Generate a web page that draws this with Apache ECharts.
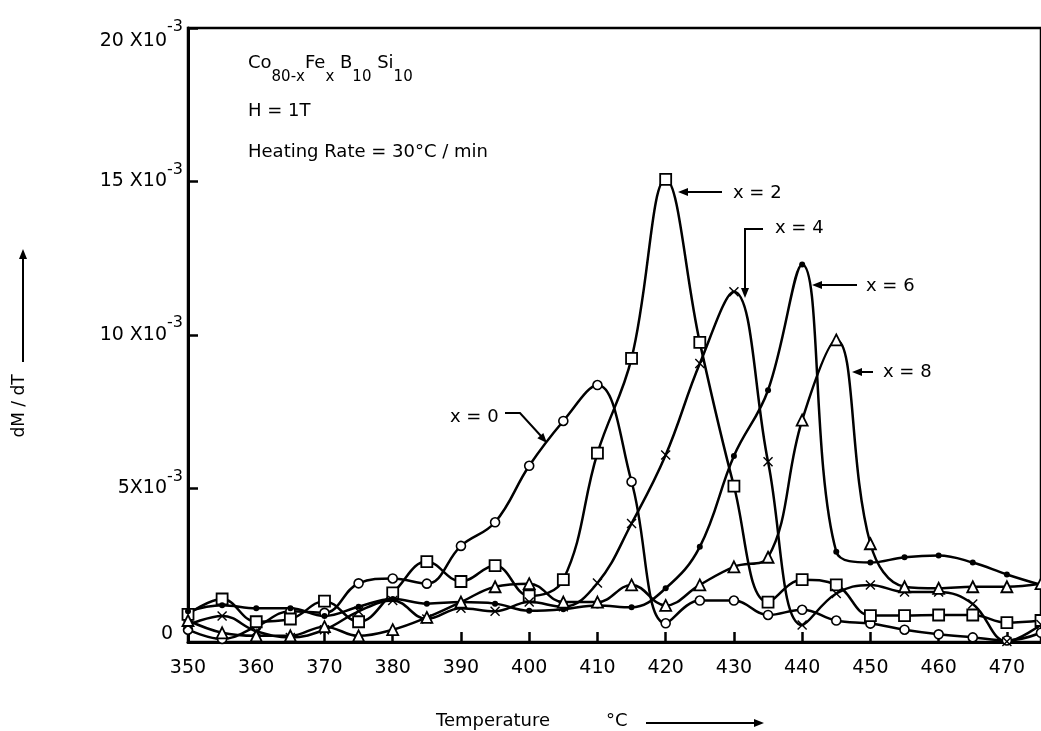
<!DOCTYPE html>
<html>
<head>
<meta charset="utf-8">
<script src="https://cdn.jsdelivr.net/npm/echarts@6/dist/echarts.min.js"></script>
<style>
  html, body { margin: 0; padding: 0; background: #fff; }
  #chart { width: 1041px; height: 731px; }
</style>
</head>
<body>
<div id="chart"></div>
<script>
// temperature (°C), one reading every 5 degrees
const temps = [350, 355, 360, 365, 370, 375, 380, 385, 390, 395, 400, 405, 410,
  415, 420, 425, 430, 435, 440, 445, 450, 455, 460, 465, 470, 475];

// dM/dT in units of 10^-3
const x0 = [0.4, 0.1, 0.5, 1.0, 0.95, 1.91, 2.07, 1.9, 3.13, 3.9, 5.74, 7.2, 8.37,
  5.22, 0.61, 1.35, 1.35, 0.88, 1.05, 0.7, 0.6, 0.4, 0.25, 0.15, 0.05, 0.3];
const x2 = [0.9, 1.4, 0.66, 0.75, 1.33, 0.66, 1.6, 2.62, 1.97, 2.49, 1.5, 2.03, 6.15,
  9.24, 15.07, 9.76, 5.08, 1.3, 2.03, 1.86, 0.86, 0.86, 0.88, 0.88, 0.63, 0.7];
const x4 = [0.55, 0.85, 0.35, 0.15, 0.4, 1.0, 1.35, 0.75, 1.1, 1.0, 1.3, 1.15, 1.92,
  3.86, 6.09, 9.07, 11.41, 5.87, 0.55, 1.58, 1.86, 1.63, 1.63, 1.24, 0.02, 0.57];
const x6 = [1.0, 1.2, 1.1, 1.1, 0.85, 1.15, 1.4, 1.25, 1.3, 1.25, 1.02, 1.07, 1.19,
  1.13, 1.75, 3.1, 6.06, 8.2, 12.3, 2.94, 2.59, 2.76, 2.82, 2.59, 2.2, 1.86];
const x8 = [0.7, 0.3, 0.2, 0.2, 0.5, 0.2, 0.4, 0.8, 1.3, 1.8, 1.9, 1.3, 1.3,
  1.86, 1.19, 1.86, 2.45, 2.76, 7.23, 9.84, 3.2, 1.8, 1.75, 1.8, 1.8, 1.9];

const font = "'DejaVu Sans', sans-serif";
const crossPath = "path://M0,1L1,0L5,4L9,0L10,1L6,5L10,9L9,10L5,6L1,10L0,9L4,5Z";

const chart = echarts.init(document.getElementById("chart"));

function curve(name, values, symbol, size, fill, border) {
  return {
    name: name,
    type: "line",
    data: temps.map((t, i) => [t, values[i]]),
    smooth: 0.4,
    symbol: symbol,
    symbolSize: size,
    showSymbol: true,
    lineStyle: { color: "#000", width: 2.5 },
    itemStyle: { color: fill, borderColor: "#000", borderWidth: border },
    emphasis: { disabled: true },
    z: 3,
  };
}

// little arrow heads for the annotations
function head(tip, dx, dy) {
  const len = 10, half = 4;
  const bx = tip[0] - dx * len, by = tip[1] - dy * len;
  return {
    type: "polygon",
    shape: { points: [tip, [bx - dy * half, by + dx * half], [bx + dy * half, by - dx * half]] },
    style: { fill: "#000" },
    z: 10,
  };
}
function seg(points) {
  return { type: "polyline", shape: { points: points }, style: { stroke: "#000", lineWidth: 2, fill: null }, z: 10 };
}
function label(text, x, y, size) {
  return {
    type: "text", x: x, y: y, z: 10,
    style: { text: text, fill: "#000", fontSize: size || 18, fontFamily: font, textVerticalAlign: "middle" },
  };
}

const richText = {
  n: { fontSize: 18, fontFamily: font, color: "#000", lineHeight: 44, verticalAlign: "middle" },
  b: { fontSize: 15, fontFamily: font, color: "#000", lineHeight: 12, verticalAlign: "bottom" },
};

const option = {
  animation: false,
  backgroundColor: "#fff",
  grid: { left: 188, right: -3, top: 28, bottom: 89, show: true, borderColor: "#000", borderWidth: 2.5 },
  xAxis: {
    type: "value",
    min: 350,
    max: 475,
    interval: 10,
    axisLine: { lineStyle: { color: "#000", width: 3 } },
    axisTick: { inside: true, length: 10, lineStyle: { color: "#000", width: 2.5 } },
    axisLabel: { color: "#000", fontSize: 19, fontFamily: font, margin: 17, showMaxLabel: false },
    splitLine: { show: false },
  },
  yAxis: {
    type: "value",
    min: 0,
    max: 20,
    interval: 5,
    axisLine: { lineStyle: { color: "#000", width: 3 } },
    axisTick: { inside: true, length: 10, lineStyle: { color: "#000", width: 2.5 } },
    axisLabel: {
      margin: 5,
      formatter: (v) => {
        if (v === 0) return "{z|0}";
        if (v === 20) return "{m2|20 X10}{s2|-3}";
        return "{m|" + (v < 10 ? v + "X10" : v + " X10") + "}{s|-3}";
      },
      rich: {
        z: { fontSize: 19, fontFamily: font, color: "#000", padding: [0, 10, 16, 0] },
        m: { fontSize: 19, fontFamily: font, color: "#000", lineHeight: 40, verticalAlign: "middle" },
        s: { fontSize: 16, fontFamily: font, color: "#000", lineHeight: 12, verticalAlign: "top" },
        m2: { fontSize: 19, fontFamily: font, color: "#000", lineHeight: 40, padding: [26, 0, 0, 0], verticalAlign: "middle" },
        s2: { fontSize: 16, fontFamily: font, color: "#000", lineHeight: 12, padding: [11, 0, 0, 0], verticalAlign: "top" },
      },
    },
    splitLine: { show: false },
  },
  series: [
    curve("x = 0", x0, "circle", 9, "#fff", 1.6),
    curve("x = 2", x2, "rect", 11, "#fff", 1.8),
    curve("x = 4", x4, crossPath, 10, "#000", 0),
    curve("x = 6", x6, "circle", 6, "#000", 0),
    curve("x = 8", x8, "triangle", 11, "#fff", 1.8),
  ],
  graphic: [
    {
      type: "text", x: 248, y: 63, z: 10,
      style: {
        text: "{n|Co}{b|80-x}{n|Fe}{b|x}{n| B}{b|10}{n| Si}{b|10}",
        rich: richText, textVerticalAlign: "middle",
      },
    },
    label("H = 1T", 248, 111),
    label("Heating Rate = 30°C / min", 248, 152),

    // curve tags
    label("x = 2", 733, 193),
    seg([[722, 192], [686, 192]]), head([678, 192], -1, 0),
    label("x = 4", 775, 228),
    seg([[763, 229], [745, 229], [745, 290]]), head([745, 298], 0, 1),
    label("x = 6", 866, 286),
    seg([[857, 285], [820, 285]]), head([812, 285], -1, 0),
    label("x = 8", 883, 372),
    seg([[873, 372], [860, 372]]), head([852, 372], -1, 0),
    label("x = 0", 450, 417),
    seg([[505, 413], [520, 413], [541, 436]]), head([547, 443], 0.667, 0.745),

    // axis titles
    label("Temperature", 436, 721),
    label("°C", 606, 721),
    seg([[646, 723], [755, 723]]), head([764, 723], 1, 0),
    {
      type: "text", x: 20, y: 406, rotation: Math.PI / 2, z: 10,
      style: { text: "dM / dT", fill: "#000", fontSize: 17, fontFamily: font, textAlign: "center", textVerticalAlign: "middle" },
    },
    seg([[23, 362], [23, 258]]), head([23, 249], 0, -1),
  ],
};

chart.setOption(option);
</script>
</body>
</html>
